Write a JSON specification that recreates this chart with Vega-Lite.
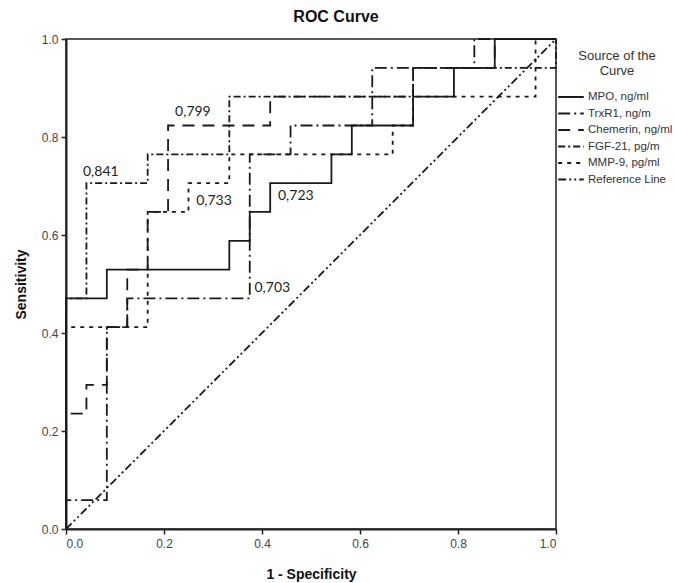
{
  "$schema": "https://vega.github.io/schema/vega-lite/v6.json",
  "width": 490,
  "height": 490,
  "autosize": {"type": "none"},
  "padding": {"left": 66, "top": 39, "right": 119, "bottom": 54},
  "background": "white",
  "title": {"text": "ROC Curve", "anchor": "middle", "dx": 25, "offset": 8, "fontSize": 16, "font": "Liberation Sans", "fontWeight": "bold", "color": "#111"},
  "config": {
    "view": {"stroke": "#222", "strokeWidth": 1.5},
    "axis": {"domainColor": "#222", "domainWidth": 2, "tickColor": "#222", "tickWidth": 1.5, "tickSize": 5, "labelFont": "Liberation Sans", "labelFontSize": 12, "labelColor": "#444", "titleFont": "Liberation Sans", "titleFontSize": 14, "titleFontWeight": "bold", "titleColor": "#111", "grid": false}
  },
  "datasets": {
    "curves": [
      {"curve": "MPO, ng/ml", "i": 0, "fpr": 0, "tpr": 0},
      {"curve": "MPO, ng/ml", "i": 1, "fpr": 0, "tpr": 0.4706},
      {"curve": "MPO, ng/ml", "i": 2, "fpr": 0.0833, "tpr": 0.4706},
      {"curve": "MPO, ng/ml", "i": 3, "fpr": 0.0833, "tpr": 0.5294},
      {"curve": "MPO, ng/ml", "i": 4, "fpr": 0.3333, "tpr": 0.5294},
      {"curve": "MPO, ng/ml", "i": 5, "fpr": 0.3333, "tpr": 0.5882},
      {"curve": "MPO, ng/ml", "i": 6, "fpr": 0.375, "tpr": 0.5882},
      {"curve": "MPO, ng/ml", "i": 7, "fpr": 0.375, "tpr": 0.6471},
      {"curve": "MPO, ng/ml", "i": 8, "fpr": 0.4167, "tpr": 0.6471},
      {"curve": "MPO, ng/ml", "i": 9, "fpr": 0.4167, "tpr": 0.7059},
      {"curve": "MPO, ng/ml", "i": 10, "fpr": 0.5417, "tpr": 0.7059},
      {"curve": "MPO, ng/ml", "i": 11, "fpr": 0.5417, "tpr": 0.7647},
      {"curve": "MPO, ng/ml", "i": 12, "fpr": 0.5833, "tpr": 0.7647},
      {"curve": "MPO, ng/ml", "i": 13, "fpr": 0.5833, "tpr": 0.8235},
      {"curve": "MPO, ng/ml", "i": 14, "fpr": 0.7083, "tpr": 0.8235},
      {"curve": "MPO, ng/ml", "i": 15, "fpr": 0.7083, "tpr": 0.8824},
      {"curve": "MPO, ng/ml", "i": 16, "fpr": 0.7917, "tpr": 0.8824},
      {"curve": "MPO, ng/ml", "i": 17, "fpr": 0.7917, "tpr": 0.9412},
      {"curve": "MPO, ng/ml", "i": 18, "fpr": 0.875, "tpr": 0.9412},
      {"curve": "MPO, ng/ml", "i": 19, "fpr": 0.875, "tpr": 1},
      {"curve": "MPO, ng/ml", "i": 20, "fpr": 1, "tpr": 1},

      {"curve": "TrxR1, ng/m", "i": 0, "fpr": 0, "tpr": 0},
      {"curve": "TrxR1, ng/m", "i": 1, "fpr": 0, "tpr": 0.0588},
      {"curve": "TrxR1, ng/m", "i": 2, "fpr": 0.0833, "tpr": 0.0588},
      {"curve": "TrxR1, ng/m", "i": 3, "fpr": 0.0833, "tpr": 0.4118},
      {"curve": "TrxR1, ng/m", "i": 4, "fpr": 0.125, "tpr": 0.4118},
      {"curve": "TrxR1, ng/m", "i": 5, "fpr": 0.125, "tpr": 0.4706},
      {"curve": "TrxR1, ng/m", "i": 6, "fpr": 0.375, "tpr": 0.4706},
      {"curve": "TrxR1, ng/m", "i": 7, "fpr": 0.375, "tpr": 0.7647},
      {"curve": "TrxR1, ng/m", "i": 8, "fpr": 0.4583, "tpr": 0.7647},
      {"curve": "TrxR1, ng/m", "i": 9, "fpr": 0.4583, "tpr": 0.8235},
      {"curve": "TrxR1, ng/m", "i": 10, "fpr": 0.625, "tpr": 0.8235},
      {"curve": "TrxR1, ng/m", "i": 11, "fpr": 0.625, "tpr": 0.9412},
      {"curve": "TrxR1, ng/m", "i": 12, "fpr": 0.8333, "tpr": 0.9412},
      {"curve": "TrxR1, ng/m", "i": 13, "fpr": 0.8333, "tpr": 1},
      {"curve": "TrxR1, ng/m", "i": 14, "fpr": 1, "tpr": 1},

      {"curve": "Chemerin, ng/ml", "i": 0, "fpr": 0, "tpr": 0},
      {"curve": "Chemerin, ng/ml", "i": 1, "fpr": 0, "tpr": 0.2353},
      {"curve": "Chemerin, ng/ml", "i": 2, "fpr": 0.0417, "tpr": 0.2353},
      {"curve": "Chemerin, ng/ml", "i": 3, "fpr": 0.0417, "tpr": 0.2941},
      {"curve": "Chemerin, ng/ml", "i": 4, "fpr": 0.0833, "tpr": 0.2941},
      {"curve": "Chemerin, ng/ml", "i": 5, "fpr": 0.0833, "tpr": 0.4118},
      {"curve": "Chemerin, ng/ml", "i": 6, "fpr": 0.125, "tpr": 0.4118},
      {"curve": "Chemerin, ng/ml", "i": 7, "fpr": 0.125, "tpr": 0.5294},
      {"curve": "Chemerin, ng/ml", "i": 8, "fpr": 0.1667, "tpr": 0.5294},
      {"curve": "Chemerin, ng/ml", "i": 9, "fpr": 0.1667, "tpr": 0.6471},
      {"curve": "Chemerin, ng/ml", "i": 10, "fpr": 0.2083, "tpr": 0.6471},
      {"curve": "Chemerin, ng/ml", "i": 11, "fpr": 0.2083, "tpr": 0.8235},
      {"curve": "Chemerin, ng/ml", "i": 12, "fpr": 0.4167, "tpr": 0.8235},
      {"curve": "Chemerin, ng/ml", "i": 13, "fpr": 0.4167, "tpr": 0.8824},
      {"curve": "Chemerin, ng/ml", "i": 14, "fpr": 0.7083, "tpr": 0.8824},
      {"curve": "Chemerin, ng/ml", "i": 15, "fpr": 0.7083, "tpr": 0.9412},
      {"curve": "Chemerin, ng/ml", "i": 16, "fpr": 0.875, "tpr": 0.9412},
      {"curve": "Chemerin, ng/ml", "i": 17, "fpr": 0.875, "tpr": 1},
      {"curve": "Chemerin, ng/ml", "i": 18, "fpr": 1, "tpr": 1},

      {"curve": "FGF-21, pg/m", "i": 0, "fpr": 0, "tpr": 0},
      {"curve": "FGF-21, pg/m", "i": 1, "fpr": 0, "tpr": 0.4706},
      {"curve": "FGF-21, pg/m", "i": 2, "fpr": 0.0417, "tpr": 0.4706},
      {"curve": "FGF-21, pg/m", "i": 3, "fpr": 0.0417, "tpr": 0.7059},
      {"curve": "FGF-21, pg/m", "i": 4, "fpr": 0.1667, "tpr": 0.7059},
      {"curve": "FGF-21, pg/m", "i": 5, "fpr": 0.1667, "tpr": 0.7647},
      {"curve": "FGF-21, pg/m", "i": 6, "fpr": 0.3333, "tpr": 0.7647},
      {"curve": "FGF-21, pg/m", "i": 7, "fpr": 0.3333, "tpr": 0.8824},
      {"curve": "FGF-21, pg/m", "i": 8, "fpr": 0.7083, "tpr": 0.8824},
      {"curve": "FGF-21, pg/m", "i": 9, "fpr": 0.7083, "tpr": 0.9412},
      {"curve": "FGF-21, pg/m", "i": 10, "fpr": 1, "tpr": 0.9412},
      {"curve": "FGF-21, pg/m", "i": 11, "fpr": 1, "tpr": 1},

      {"curve": "MMP-9, pg/ml", "i": 0, "fpr": 0, "tpr": 0},
      {"curve": "MMP-9, pg/ml", "i": 1, "fpr": 0, "tpr": 0.4118},
      {"curve": "MMP-9, pg/ml", "i": 2, "fpr": 0.1667, "tpr": 0.4118},
      {"curve": "MMP-9, pg/ml", "i": 3, "fpr": 0.1667, "tpr": 0.6471},
      {"curve": "MMP-9, pg/ml", "i": 4, "fpr": 0.25, "tpr": 0.6471},
      {"curve": "MMP-9, pg/ml", "i": 5, "fpr": 0.25, "tpr": 0.7059},
      {"curve": "MMP-9, pg/ml", "i": 6, "fpr": 0.3333, "tpr": 0.7059},
      {"curve": "MMP-9, pg/ml", "i": 7, "fpr": 0.3333, "tpr": 0.7647},
      {"curve": "MMP-9, pg/ml", "i": 8, "fpr": 0.6667, "tpr": 0.7647},
      {"curve": "MMP-9, pg/ml", "i": 9, "fpr": 0.6667, "tpr": 0.8235},
      {"curve": "MMP-9, pg/ml", "i": 10, "fpr": 0.7083, "tpr": 0.8235},
      {"curve": "MMP-9, pg/ml", "i": 11, "fpr": 0.7083, "tpr": 0.8824},
      {"curve": "MMP-9, pg/ml", "i": 12, "fpr": 0.9583, "tpr": 0.8824},
      {"curve": "MMP-9, pg/ml", "i": 13, "fpr": 0.9583, "tpr": 1},
      {"curve": "MMP-9, pg/ml", "i": 14, "fpr": 1, "tpr": 1},

      {"curve": "Reference Line", "i": 0, "fpr": 0, "tpr": 0},
      {"curve": "Reference Line", "i": 1, "fpr": 1, "tpr": 1}
    ],
    "labels": [
      {"label": "0,841", "fpr": 0.071, "tpr": 0.729},
      {"label": "0,799", "fpr": 0.259, "tpr": 0.852},
      {"label": "0,733", "fpr": 0.302, "tpr": 0.669},
      {"label": "0,723", "fpr": 0.469, "tpr": 0.68},
      {"label": "0,703", "fpr": 0.421, "tpr": 0.492}
    ]
  },
  "layer": [
    {
      "data": {"name": "curves"},
      "mark": {"type": "line", "stroke": "#1a1a1a", "strokeWidth": 1.8, "clip": false},
      "encoding": {
        "x": {"field": "fpr", "type": "quantitative", "scale": {"domain": [0, 1], "nice": false, "zero": false}, "axis": {"title": "1 - Specificity", "values": [0, 0.2, 0.4, 0.6, 0.8, 1], "format": ".1f", "labelPadding": 4, "titlePadding": 18}},
        "y": {"field": "tpr", "type": "quantitative", "scale": {"domain": [0, 1], "nice": false, "zero": false}, "axis": {"title": "Sensitivity", "values": [0, 0.2, 0.4, 0.6, 0.8, 1], "format": ".1f", "labelPadding": 3, "titlePadding": 13}},
        "order": {"field": "i", "type": "quantitative"},
        "strokeDash": {
          "field": "curve", "type": "nominal",
          "scale": {
            "domain": ["MPO, ng/ml", "TrxR1, ng/m", "Chemerin, ng/ml", "FGF-21, pg/m", "MMP-9, pg/ml", "Reference Line"],
            "range": [[1, 0], [12, 4, 2, 4], [12, 8], [7, 3, 2, 3], [4, 5], [8, 3, 2, 3, 2, 3]]
          },
          "legend": {
            "title": ["Source of the", "Curve"],
            "orient": "none",
            "legendX": 496,
            "legendY": 11,
            "titleFont": "Liberation Sans",
            "titleFontSize": 13,
            "titleFontWeight": "normal",
            "titleColor": "#333",
            "titleAlign": "center",
            "titleAnchor": "middle",
            "titleLineHeight": 15,
            "titlePadding": 10,
            "labelFont": "Liberation Sans",
            "labelFontSize": 11.5,
            "labelColor": "#333",
            "labelLimit": 200,
            "labelOffset": 8,
            "symbolType": "M-1.6,0L1.6,0",
            "symbolSize": 256,
            "symbolStrokeWidth": 1.8,
            "symbolStrokeColor": "#1a1a1a",
            "rowPadding": 1.5
          }
        }
      }
    },
    {
      "data": {"name": "labels"},
      "mark": {"type": "text", "font": "Lato", "fontSize": 14, "color": "#222", "align": "center", "baseline": "middle"},
      "encoding": {
        "x": {"field": "fpr", "type": "quantitative"},
        "y": {"field": "tpr", "type": "quantitative"},
        "text": {"field": "label", "type": "nominal"}
      }
    }
  ]
}
